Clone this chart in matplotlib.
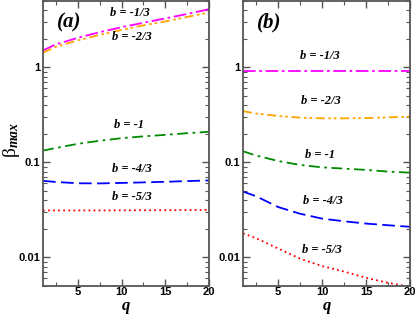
import matplotlib
matplotlib.use("Agg")
import matplotlib.pyplot as plt
from matplotlib.ticker import LogLocator, MultipleLocator, FixedLocator, FixedFormatter, NullFormatter

plt.rcParams['mathtext.fontset'] = 'custom'
plt.rcParams['mathtext.rm'] = 'Liberation Serif'
plt.rcParams['mathtext.it'] = 'Liberation Serif:italic:bold'
plt.rcParams['mathtext.bf'] = 'Liberation Serif:bold'

q = [1, 2.5, 5, 7.5, 10, 12.5, 15, 17.5, 20]

# panel (a)
a_m13 = [1.51, 1.75, 2.05, 2.35, 2.65, 2.95, 3.28, 3.65, 4.1]
a_m23 = [1.43, 1.65, 1.93, 2.20, 2.48, 2.77, 3.05, 3.40, 3.78]
a_m1 = [0.133, 0.142, 0.157, 0.169, 0.180, 0.188, 0.195, 0.203, 0.210]
a_m43 = [0.0639, 0.0622, 0.0603, 0.0601, 0.0608, 0.0616, 0.0625, 0.0636, 0.0646]
a_m53 = [0.0312, 0.0312, 0.0312, 0.0312, 0.0313, 0.0314, 0.0314, 0.0315, 0.0316]

# panel (b)
b_m13 = [0.915, 0.915, 0.915, 0.915, 0.915, 0.915, 0.915, 0.915, 0.915]
b_m23 = [0.346, 0.327, 0.308, 0.296, 0.291, 0.291, 0.293, 0.298, 0.303]
b_m1 = [0.131, 0.118, 0.1035, 0.094, 0.0887, 0.086, 0.0834, 0.080, 0.078]
b_m43 = [0.0493, 0.0440, 0.0339, 0.0288, 0.0256, 0.0240, 0.0227, 0.0218, 0.0210]
b_m53 = [0.0179, 0.0159, 0.0124, 0.0097, 0.0081, 0.0071, 0.0061, 0.0054, 0.0049]

labels = ['b = -1/3', 'b = -2/3', 'b = -1', 'b = -4/3', 'b = -5/3']
colors = ['#ff00ff', '#ffa500', '#008a00', '#0000ff', '#ff0000']
styles = [(0, (7, 2, 1.5, 2)), (0, (5, 2, 1.5, 1.5, 1.5, 2)), (0, (6, 2.5, 1.5, 2.5)),
          (0, (7, 3)), (0, (1, 1.8))]

a_series = [a_m13, a_m23, a_m1, a_m43, a_m53]
b_series = [b_m13, b_m23, b_m1, b_m43, b_m53]

a_lab_pos = [(11.0, 3.75), (11.2, 2.1), (10.9, 0.25), (11.2, 0.085), (11.2, 0.0436)]
b_lab_pos = [(9.75, 1.33), (9.85, 0.443), (9.75, 0.119), (10.1, 0.0388), (10.0, 0.0120)]

fig = plt.figure(figsize=(4.15, 3.15), dpi=100)
axa = fig.add_axes([43/415, 29/315, 166/415, 285/315])
axb = fig.add_axes([243/415, 29/315, 167/415, 285/315])

serif = 'Liberation Serif'
sans = 'Liberation Sans'

for ax, series, lpos, tag in [(axa, a_series, a_lab_pos, '(a)'), (axb, b_series, b_lab_pos, '(b)')]:
    for s, c, ls in zip(series, colors, styles):
        ax.plot(q, s, color=c, linestyle=ls, lw=1.3)
    for (x, y), t in zip(lpos, labels):
        ax.text(x, y, t, ha='center', va='center', fontsize=9, family=serif,
                fontweight='bold', style='italic')
    ax.text(4.0, 3.0, tag, ha='center', va='center', fontsize=15, family=serif,
            fontweight='bold', style='italic')
    ax.set_yscale('log')
    ax.set_xlim(1, 20)
    ax.set_ylim(0.005, 5)
    ax.xaxis.set_major_locator(FixedLocator([5, 10, 15, 20]))
    ax.xaxis.set_minor_locator(MultipleLocator(2.5))
    ax.yaxis.set_major_locator(FixedLocator([0.01, 0.1, 1]))
    ax.yaxis.set_major_formatter(FixedFormatter(['0.01', '0.1', '1']))
    ax.yaxis.set_minor_locator(LogLocator(base=10, subs=range(2, 10)))
    ax.yaxis.set_minor_formatter(NullFormatter())
    ax.tick_params(which='both', direction='in', top=True, right=True, color='#555555')
    ax.tick_params(which='major', length=5, width=1.0, labelsize=8, pad=2)
    ax.tick_params(axis='x', which='major', pad=1)
    ax.tick_params(which='minor', length=3, width=0.8)
    for lab in ax.get_xticklabels() + ax.get_yticklabels():
        lab.set_family(sans)
        lab.set_fontweight('bold')
    for sp in ax.spines.values():
        sp.set_color('#555555')
        sp.set_linewidth(1.3)
    ax.text(0.5, -21/285, r'$\mathit{q}$', transform=ax.transAxes, ha='center', va='center',
            fontsize=12)

fig.text(11/415, 1 - 140/315, r'$\mathrm{\beta}_{\mathit{max}}$', rotation=90,
         ha='center', va='center', fontsize=14)

fig.savefig('out.png', dpi=100)
